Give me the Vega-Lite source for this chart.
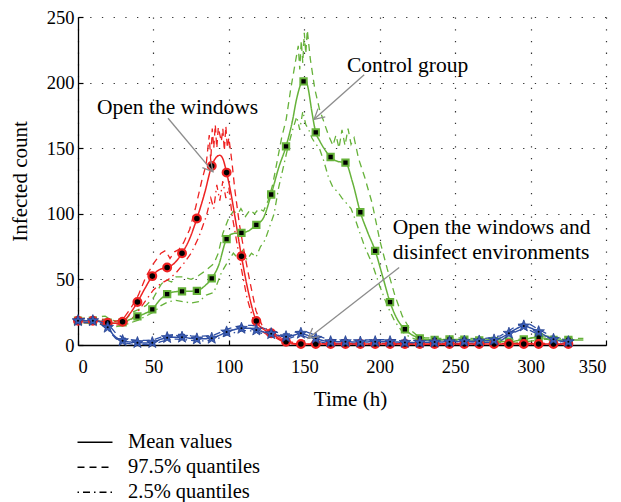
{
  "$schema": "https://vega.github.io/schema/vega-lite/v6.json",
  "width": 528,
  "height": 328,
  "autosize": {"type": "none"},
  "padding": {"left": 78, "top": 17, "right": 15, "bottom": 157},
  "config": {
    "view": {"stroke": null},
    "font": "Liberation Serif",
    "axis": {
      "grid": true,
      "gridColor": "#333333",
      "gridDash": [1.3, 10.4],
      "gridWidth": 1.2,
      "domainColor": "black",
      "domainWidth": 1.3,
      "tickColor": "black",
      "tickSize": -5,
      "tickWidth": 1.2
    }
  },
  "datasets": {
    "lines": [
      {"s": "control", "q": "97.5% quantiles", "t": 0, "v": 20}, {"s": "control", "q": "97.5% quantiles", "t": 10, "v": 21}, {"s": "control", "q": "97.5% quantiles", "t": 18, "v": 22}, {"s": "control", "q": "97.5% quantiles", "t": 22, "v": 19}, {"s": "control", "q": "97.5% quantiles", "t": 28, "v": 18}, {"s": "control", "q": "97.5% quantiles", "t": 32, "v": 20}, {"s": "control", "q": "97.5% quantiles", "t": 36, "v": 25}, {"s": "control", "q": "97.5% quantiles", "t": 40, "v": 27}, {"s": "control", "q": "97.5% quantiles", "t": 45, "v": 30}, {"s": "control", "q": "97.5% quantiles", "t": 50, "v": 36}, {"s": "control", "q": "97.5% quantiles", "t": 55, "v": 46}, {"s": "control", "q": "97.5% quantiles", "t": 58, "v": 50}, {"s": "control", "q": "97.5% quantiles", "t": 62, "v": 48}, {"s": "control", "q": "97.5% quantiles", "t": 65, "v": 52}, {"s": "control", "q": "97.5% quantiles", "t": 70, "v": 52}, {"s": "control", "q": "97.5% quantiles", "t": 75, "v": 50}, {"s": "control", "q": "97.5% quantiles", "t": 80, "v": 53}, {"s": "control", "q": "97.5% quantiles", "t": 85, "v": 57}, {"s": "control", "q": "97.5% quantiles", "t": 90, "v": 62}, {"s": "control", "q": "97.5% quantiles", "t": 93, "v": 70}, {"s": "control", "q": "97.5% quantiles", "t": 96, "v": 85}, {"s": "control", "q": "97.5% quantiles", "t": 100, "v": 97}, {"s": "control", "q": "97.5% quantiles", "t": 103, "v": 102}, {"s": "control", "q": "97.5% quantiles", "t": 106, "v": 100}, {"s": "control", "q": "97.5% quantiles", "t": 108, "v": 104}, {"s": "control", "q": "97.5% quantiles", "t": 111, "v": 98}, {"s": "control", "q": "97.5% quantiles", "t": 114, "v": 103}, {"s": "control", "q": "97.5% quantiles", "t": 117, "v": 100}, {"s": "control", "q": "97.5% quantiles", "t": 120, "v": 104}, {"s": "control", "q": "97.5% quantiles", "t": 123, "v": 102}, {"s": "control", "q": "97.5% quantiles", "t": 126, "v": 110}, {"s": "control", "q": "97.5% quantiles", "t": 129, "v": 122}, {"s": "control", "q": "97.5% quantiles", "t": 132, "v": 140}, {"s": "control", "q": "97.5% quantiles", "t": 135, "v": 158}, {"s": "control", "q": "97.5% quantiles", "t": 138, "v": 172}, {"s": "control", "q": "97.5% quantiles", "t": 141, "v": 195}, {"s": "control", "q": "97.5% quantiles", "t": 144, "v": 215}, {"s": "control", "q": "97.5% quantiles", "t": 146, "v": 228}, {"s": "control", "q": "97.5% quantiles", "t": 147, "v": 210}, {"s": "control", "q": "97.5% quantiles", "t": 148, "v": 232}, {"s": "control", "q": "97.5% quantiles", "t": 149, "v": 215}, {"s": "control", "q": "97.5% quantiles", "t": 150, "v": 238}, {"s": "control", "q": "97.5% quantiles", "t": 151, "v": 222}, {"s": "control", "q": "97.5% quantiles", "t": 152, "v": 240}, {"s": "control", "q": "97.5% quantiles", "t": 154, "v": 218}, {"s": "control", "q": "97.5% quantiles", "t": 157, "v": 195}, {"s": "control", "q": "97.5% quantiles", "t": 160, "v": 180}, {"s": "control", "q": "97.5% quantiles", "t": 163, "v": 170}, {"s": "control", "q": "97.5% quantiles", "t": 166, "v": 160}, {"s": "control", "q": "97.5% quantiles", "t": 169, "v": 152}, {"s": "control", "q": "97.5% quantiles", "t": 171, "v": 160}, {"s": "control", "q": "97.5% quantiles", "t": 173, "v": 150}, {"s": "control", "q": "97.5% quantiles", "t": 175, "v": 164}, {"s": "control", "q": "97.5% quantiles", "t": 177, "v": 152}, {"s": "control", "q": "97.5% quantiles", "t": 179, "v": 165}, {"s": "control", "q": "97.5% quantiles", "t": 181, "v": 153}, {"s": "control", "q": "97.5% quantiles", "t": 183, "v": 158}, {"s": "control", "q": "97.5% quantiles", "t": 186, "v": 142}, {"s": "control", "q": "97.5% quantiles", "t": 190, "v": 128}, {"s": "control", "q": "97.5% quantiles", "t": 195, "v": 108}, {"s": "control", "q": "97.5% quantiles", "t": 200, "v": 80}, {"s": "control", "q": "97.5% quantiles", "t": 205, "v": 58}, {"s": "control", "q": "97.5% quantiles", "t": 210, "v": 38}, {"s": "control", "q": "97.5% quantiles", "t": 215, "v": 22}, {"s": "control", "q": "97.5% quantiles", "t": 220, "v": 12}, {"s": "control", "q": "97.5% quantiles", "t": 225, "v": 7}, {"s": "control", "q": "97.5% quantiles", "t": 230, "v": 5.5}, {"s": "control", "q": "97.5% quantiles", "t": 240, "v": 5}, {"s": "control", "q": "97.5% quantiles", "t": 250, "v": 5.5}, {"s": "control", "q": "97.5% quantiles", "t": 260, "v": 5}, {"s": "control", "q": "97.5% quantiles", "t": 270, "v": 4.5}, {"s": "control", "q": "97.5% quantiles", "t": 280, "v": 4}, {"s": "control", "q": "97.5% quantiles", "t": 290, "v": 4}, {"s": "control", "q": "97.5% quantiles", "t": 300, "v": 5.5}, {"s": "control", "q": "97.5% quantiles", "t": 310, "v": 7}, {"s": "control", "q": "97.5% quantiles", "t": 320, "v": 5}, {"s": "control", "q": "97.5% quantiles", "t": 335, "v": 5},
      {"s": "control", "q": "2.5% quantiles", "t": 0, "v": 17}, {"s": "control", "q": "2.5% quantiles", "t": 10, "v": 16.5}, {"s": "control", "q": "2.5% quantiles", "t": 20, "v": 15}, {"s": "control", "q": "2.5% quantiles", "t": 25, "v": 14}, {"s": "control", "q": "2.5% quantiles", "t": 30, "v": 15}, {"s": "control", "q": "2.5% quantiles", "t": 35, "v": 17}, {"s": "control", "q": "2.5% quantiles", "t": 40, "v": 19}, {"s": "control", "q": "2.5% quantiles", "t": 45, "v": 22}, {"s": "control", "q": "2.5% quantiles", "t": 50, "v": 25}, {"s": "control", "q": "2.5% quantiles", "t": 55, "v": 30}, {"s": "control", "q": "2.5% quantiles", "t": 60, "v": 33}, {"s": "control", "q": "2.5% quantiles", "t": 65, "v": 34}, {"s": "control", "q": "2.5% quantiles", "t": 70, "v": 33}, {"s": "control", "q": "2.5% quantiles", "t": 75, "v": 32}, {"s": "control", "q": "2.5% quantiles", "t": 80, "v": 33}, {"s": "control", "q": "2.5% quantiles", "t": 85, "v": 38}, {"s": "control", "q": "2.5% quantiles", "t": 90, "v": 40}, {"s": "control", "q": "2.5% quantiles", "t": 95, "v": 55}, {"s": "control", "q": "2.5% quantiles", "t": 100, "v": 65}, {"s": "control", "q": "2.5% quantiles", "t": 103, "v": 70}, {"s": "control", "q": "2.5% quantiles", "t": 106, "v": 66}, {"s": "control", "q": "2.5% quantiles", "t": 109, "v": 72}, {"s": "control", "q": "2.5% quantiles", "t": 112, "v": 65}, {"s": "control", "q": "2.5% quantiles", "t": 115, "v": 70}, {"s": "control", "q": "2.5% quantiles", "t": 118, "v": 67}, {"s": "control", "q": "2.5% quantiles", "t": 121, "v": 75}, {"s": "control", "q": "2.5% quantiles", "t": 124, "v": 80}, {"s": "control", "q": "2.5% quantiles", "t": 127, "v": 90}, {"s": "control", "q": "2.5% quantiles", "t": 130, "v": 100}, {"s": "control", "q": "2.5% quantiles", "t": 133, "v": 120}, {"s": "control", "q": "2.5% quantiles", "t": 136, "v": 135}, {"s": "control", "q": "2.5% quantiles", "t": 139, "v": 150}, {"s": "control", "q": "2.5% quantiles", "t": 142, "v": 163}, {"s": "control", "q": "2.5% quantiles", "t": 145, "v": 174}, {"s": "control", "q": "2.5% quantiles", "t": 147, "v": 164}, {"s": "control", "q": "2.5% quantiles", "t": 149, "v": 178}, {"s": "control", "q": "2.5% quantiles", "t": 151, "v": 168}, {"s": "control", "q": "2.5% quantiles", "t": 153, "v": 164}, {"s": "control", "q": "2.5% quantiles", "t": 155, "v": 158}, {"s": "control", "q": "2.5% quantiles", "t": 157, "v": 154}, {"s": "control", "q": "2.5% quantiles", "t": 160, "v": 150}, {"s": "control", "q": "2.5% quantiles", "t": 163, "v": 140}, {"s": "control", "q": "2.5% quantiles", "t": 166, "v": 128}, {"s": "control", "q": "2.5% quantiles", "t": 169, "v": 120}, {"s": "control", "q": "2.5% quantiles", "t": 172, "v": 117}, {"s": "control", "q": "2.5% quantiles", "t": 175, "v": 112}, {"s": "control", "q": "2.5% quantiles", "t": 178, "v": 108}, {"s": "control", "q": "2.5% quantiles", "t": 181, "v": 104}, {"s": "control", "q": "2.5% quantiles", "t": 184, "v": 95}, {"s": "control", "q": "2.5% quantiles", "t": 187, "v": 85}, {"s": "control", "q": "2.5% quantiles", "t": 190, "v": 75}, {"s": "control", "q": "2.5% quantiles", "t": 195, "v": 62}, {"s": "control", "q": "2.5% quantiles", "t": 200, "v": 45}, {"s": "control", "q": "2.5% quantiles", "t": 205, "v": 30}, {"s": "control", "q": "2.5% quantiles", "t": 210, "v": 18}, {"s": "control", "q": "2.5% quantiles", "t": 215, "v": 10}, {"s": "control", "q": "2.5% quantiles", "t": 220, "v": 6}, {"s": "control", "q": "2.5% quantiles", "t": 225, "v": 4}, {"s": "control", "q": "2.5% quantiles", "t": 230, "v": 3}, {"s": "control", "q": "2.5% quantiles", "t": 240, "v": 3}, {"s": "control", "q": "2.5% quantiles", "t": 250, "v": 3.5}, {"s": "control", "q": "2.5% quantiles", "t": 260, "v": 3}, {"s": "control", "q": "2.5% quantiles", "t": 270, "v": 2.5}, {"s": "control", "q": "2.5% quantiles", "t": 280, "v": 2}, {"s": "control", "q": "2.5% quantiles", "t": 290, "v": 1.5}, {"s": "control", "q": "2.5% quantiles", "t": 300, "v": 3}, {"s": "control", "q": "2.5% quantiles", "t": 310, "v": 4.5}, {"s": "control", "q": "2.5% quantiles", "t": 320, "v": 3}, {"s": "control", "q": "2.5% quantiles", "t": 330, "v": 3},
      {"s": "window", "q": "97.5% quantiles", "t": 0, "v": 20}, {"s": "window", "q": "97.5% quantiles", "t": 10, "v": 20.5}, {"s": "window", "q": "97.5% quantiles", "t": 20, "v": 19}, {"s": "window", "q": "97.5% quantiles", "t": 25, "v": 18}, {"s": "window", "q": "97.5% quantiles", "t": 30, "v": 20}, {"s": "window", "q": "97.5% quantiles", "t": 35, "v": 28}, {"s": "window", "q": "97.5% quantiles", "t": 40, "v": 38}, {"s": "window", "q": "97.5% quantiles", "t": 45, "v": 52}, {"s": "window", "q": "97.5% quantiles", "t": 50, "v": 62}, {"s": "window", "q": "97.5% quantiles", "t": 55, "v": 70}, {"s": "window", "q": "97.5% quantiles", "t": 58, "v": 72}, {"s": "window", "q": "97.5% quantiles", "t": 61, "v": 66}, {"s": "window", "q": "97.5% quantiles", "t": 64, "v": 71}, {"s": "window", "q": "97.5% quantiles", "t": 67, "v": 73}, {"s": "window", "q": "97.5% quantiles", "t": 70, "v": 78}, {"s": "window", "q": "97.5% quantiles", "t": 74, "v": 88}, {"s": "window", "q": "97.5% quantiles", "t": 78, "v": 105}, {"s": "window", "q": "97.5% quantiles", "t": 82, "v": 125}, {"s": "window", "q": "97.5% quantiles", "t": 85, "v": 138}, {"s": "window", "q": "97.5% quantiles", "t": 87, "v": 160}, {"s": "window", "q": "97.5% quantiles", "t": 88, "v": 140}, {"s": "window", "q": "97.5% quantiles", "t": 89, "v": 165}, {"s": "window", "q": "97.5% quantiles", "t": 90, "v": 150}, {"s": "window", "q": "97.5% quantiles", "t": 91, "v": 168}, {"s": "window", "q": "97.5% quantiles", "t": 92, "v": 150}, {"s": "window", "q": "97.5% quantiles", "t": 93, "v": 166}, {"s": "window", "q": "97.5% quantiles", "t": 95, "v": 155}, {"s": "window", "q": "97.5% quantiles", "t": 96, "v": 165}, {"s": "window", "q": "97.5% quantiles", "t": 97, "v": 148}, {"s": "window", "q": "97.5% quantiles", "t": 98, "v": 167}, {"s": "window", "q": "97.5% quantiles", "t": 99, "v": 150}, {"s": "window", "q": "97.5% quantiles", "t": 100, "v": 158}, {"s": "window", "q": "97.5% quantiles", "t": 102, "v": 140}, {"s": "window", "q": "97.5% quantiles", "t": 104, "v": 118}, {"s": "window", "q": "97.5% quantiles", "t": 107, "v": 92}, {"s": "window", "q": "97.5% quantiles", "t": 110, "v": 72}, {"s": "window", "q": "97.5% quantiles", "t": 114, "v": 48}, {"s": "window", "q": "97.5% quantiles", "t": 118, "v": 26}, {"s": "window", "q": "97.5% quantiles", "t": 122, "v": 15}, {"s": "window", "q": "97.5% quantiles", "t": 126, "v": 11}, {"s": "window", "q": "97.5% quantiles", "t": 130, "v": 9}, {"s": "window", "q": "97.5% quantiles", "t": 135, "v": 5}, {"s": "window", "q": "97.5% quantiles", "t": 140, "v": 2.5}, {"s": "window", "q": "97.5% quantiles", "t": 145, "v": 1.5}, {"s": "window", "q": "97.5% quantiles", "t": 150, "v": 1.2}, {"s": "window", "q": "97.5% quantiles", "t": 325, "v": 1.2},
      {"s": "window", "q": "2.5% quantiles", "t": 0, "v": 17}, {"s": "window", "q": "2.5% quantiles", "t": 10, "v": 17}, {"s": "window", "q": "2.5% quantiles", "t": 20, "v": 15.5}, {"s": "window", "q": "2.5% quantiles", "t": 25, "v": 15}, {"s": "window", "q": "2.5% quantiles", "t": 30, "v": 16}, {"s": "window", "q": "2.5% quantiles", "t": 35, "v": 19}, {"s": "window", "q": "2.5% quantiles", "t": 40, "v": 26}, {"s": "window", "q": "2.5% quantiles", "t": 45, "v": 34}, {"s": "window", "q": "2.5% quantiles", "t": 50, "v": 42}, {"s": "window", "q": "2.5% quantiles", "t": 55, "v": 47}, {"s": "window", "q": "2.5% quantiles", "t": 60, "v": 50}, {"s": "window", "q": "2.5% quantiles", "t": 65, "v": 55}, {"s": "window", "q": "2.5% quantiles", "t": 70, "v": 62}, {"s": "window", "q": "2.5% quantiles", "t": 75, "v": 70}, {"s": "window", "q": "2.5% quantiles", "t": 80, "v": 82}, {"s": "window", "q": "2.5% quantiles", "t": 85, "v": 98}, {"s": "window", "q": "2.5% quantiles", "t": 88, "v": 112}, {"s": "window", "q": "2.5% quantiles", "t": 90, "v": 104}, {"s": "window", "q": "2.5% quantiles", "t": 92, "v": 122}, {"s": "window", "q": "2.5% quantiles", "t": 94, "v": 110}, {"s": "window", "q": "2.5% quantiles", "t": 96, "v": 125}, {"s": "window", "q": "2.5% quantiles", "t": 98, "v": 112}, {"s": "window", "q": "2.5% quantiles", "t": 100, "v": 120}, {"s": "window", "q": "2.5% quantiles", "t": 102, "v": 100}, {"s": "window", "q": "2.5% quantiles", "t": 105, "v": 80}, {"s": "window", "q": "2.5% quantiles", "t": 108, "v": 60}, {"s": "window", "q": "2.5% quantiles", "t": 112, "v": 36}, {"s": "window", "q": "2.5% quantiles", "t": 116, "v": 20}, {"s": "window", "q": "2.5% quantiles", "t": 120, "v": 12}, {"s": "window", "q": "2.5% quantiles", "t": 125, "v": 8}, {"s": "window", "q": "2.5% quantiles", "t": 130, "v": 6}, {"s": "window", "q": "2.5% quantiles", "t": 135, "v": 3}, {"s": "window", "q": "2.5% quantiles", "t": 140, "v": 1}, {"s": "window", "q": "2.5% quantiles", "t": 145, "v": 0.5}, {"s": "window", "q": "2.5% quantiles", "t": 325, "v": 0.5},
      {"s": "disinfect", "q": "97.5% quantiles", "t": 0, "v": 20}, {"s": "disinfect", "q": "97.5% quantiles", "t": 10, "v": 20}, {"s": "disinfect", "q": "97.5% quantiles", "t": 15, "v": 19.5}, {"s": "disinfect", "q": "97.5% quantiles", "t": 20, "v": 16}, {"s": "disinfect", "q": "97.5% quantiles", "t": 25, "v": 9}, {"s": "disinfect", "q": "97.5% quantiles", "t": 30, "v": 5.5}, {"s": "disinfect", "q": "97.5% quantiles", "t": 35, "v": 4}, {"s": "disinfect", "q": "97.5% quantiles", "t": 40, "v": 3.5}, {"s": "disinfect", "q": "97.5% quantiles", "t": 45, "v": 3.5}, {"s": "disinfect", "q": "97.5% quantiles", "t": 50, "v": 4}, {"s": "disinfect", "q": "97.5% quantiles", "t": 55, "v": 6}, {"s": "disinfect", "q": "97.5% quantiles", "t": 60, "v": 7.5}, {"s": "disinfect", "q": "97.5% quantiles", "t": 65, "v": 8}, {"s": "disinfect", "q": "97.5% quantiles", "t": 70, "v": 8}, {"s": "disinfect", "q": "97.5% quantiles", "t": 75, "v": 7}, {"s": "disinfect", "q": "97.5% quantiles", "t": 80, "v": 6.5}, {"s": "disinfect", "q": "97.5% quantiles", "t": 85, "v": 7}, {"s": "disinfect", "q": "97.5% quantiles", "t": 90, "v": 7.5}, {"s": "disinfect", "q": "97.5% quantiles", "t": 95, "v": 10}, {"s": "disinfect", "q": "97.5% quantiles", "t": 100, "v": 12.5}, {"s": "disinfect", "q": "97.5% quantiles", "t": 105, "v": 14}, {"s": "disinfect", "q": "97.5% quantiles", "t": 110, "v": 15}, {"s": "disinfect", "q": "97.5% quantiles", "t": 115, "v": 15}, {"s": "disinfect", "q": "97.5% quantiles", "t": 120, "v": 14}, {"s": "disinfect", "q": "97.5% quantiles", "t": 125, "v": 12}, {"s": "disinfect", "q": "97.5% quantiles", "t": 130, "v": 10.5}, {"s": "disinfect", "q": "97.5% quantiles", "t": 135, "v": 8.5}, {"s": "disinfect", "q": "97.5% quantiles", "t": 140, "v": 8.5}, {"s": "disinfect", "q": "97.5% quantiles", "t": 145, "v": 10}, {"s": "disinfect", "q": "97.5% quantiles", "t": 150, "v": 10.5}, {"s": "disinfect", "q": "97.5% quantiles", "t": 155, "v": 8.5}, {"s": "disinfect", "q": "97.5% quantiles", "t": 160, "v": 6.5}, {"s": "disinfect", "q": "97.5% quantiles", "t": 165, "v": 4.5}, {"s": "disinfect", "q": "97.5% quantiles", "t": 170, "v": 4}, {"s": "disinfect", "q": "97.5% quantiles", "t": 180, "v": 4}, {"s": "disinfect", "q": "97.5% quantiles", "t": 190, "v": 3.8}, {"s": "disinfect", "q": "97.5% quantiles", "t": 200, "v": 4}, {"s": "disinfect", "q": "97.5% quantiles", "t": 210, "v": 4}, {"s": "disinfect", "q": "97.5% quantiles", "t": 220, "v": 3.5}, {"s": "disinfect", "q": "97.5% quantiles", "t": 230, "v": 3.5}, {"s": "disinfect", "q": "97.5% quantiles", "t": 240, "v": 4}, {"s": "disinfect", "q": "97.5% quantiles", "t": 250, "v": 4}, {"s": "disinfect", "q": "97.5% quantiles", "t": 260, "v": 4.5}, {"s": "disinfect", "q": "97.5% quantiles", "t": 270, "v": 5}, {"s": "disinfect", "q": "97.5% quantiles", "t": 280, "v": 7}, {"s": "disinfect", "q": "97.5% quantiles", "t": 285, "v": 10.5}, {"s": "disinfect", "q": "97.5% quantiles", "t": 290, "v": 14}, {"s": "disinfect", "q": "97.5% quantiles", "t": 295, "v": 16.5}, {"s": "disinfect", "q": "97.5% quantiles", "t": 300, "v": 15.5}, {"s": "disinfect", "q": "97.5% quantiles", "t": 305, "v": 12}, {"s": "disinfect", "q": "97.5% quantiles", "t": 310, "v": 9}, {"s": "disinfect", "q": "97.5% quantiles", "t": 315, "v": 6}, {"s": "disinfect", "q": "97.5% quantiles", "t": 320, "v": 4.5}, {"s": "disinfect", "q": "97.5% quantiles", "t": 325, "v": 4},
      {"s": "disinfect", "q": "2.5% quantiles", "t": 0, "v": 17}, {"s": "disinfect", "q": "2.5% quantiles", "t": 10, "v": 17}, {"s": "disinfect", "q": "2.5% quantiles", "t": 15, "v": 16}, {"s": "disinfect", "q": "2.5% quantiles", "t": 20, "v": 11.5}, {"s": "disinfect", "q": "2.5% quantiles", "t": 25, "v": 5}, {"s": "disinfect", "q": "2.5% quantiles", "t": 30, "v": 1.8}, {"s": "disinfect", "q": "2.5% quantiles", "t": 35, "v": 0.8}, {"s": "disinfect", "q": "2.5% quantiles", "t": 40, "v": 0.5}, {"s": "disinfect", "q": "2.5% quantiles", "t": 45, "v": 0.4}, {"s": "disinfect", "q": "2.5% quantiles", "t": 50, "v": 0.6}, {"s": "disinfect", "q": "2.5% quantiles", "t": 55, "v": 2.5}, {"s": "disinfect", "q": "2.5% quantiles", "t": 60, "v": 4}, {"s": "disinfect", "q": "2.5% quantiles", "t": 65, "v": 4.5}, {"s": "disinfect", "q": "2.5% quantiles", "t": 70, "v": 4.2}, {"s": "disinfect", "q": "2.5% quantiles", "t": 75, "v": 3.5}, {"s": "disinfect", "q": "2.5% quantiles", "t": 80, "v": 3}, {"s": "disinfect", "q": "2.5% quantiles", "t": 85, "v": 3.2}, {"s": "disinfect", "q": "2.5% quantiles", "t": 90, "v": 3.8}, {"s": "disinfect", "q": "2.5% quantiles", "t": 95, "v": 6}, {"s": "disinfect", "q": "2.5% quantiles", "t": 100, "v": 8}, {"s": "disinfect", "q": "2.5% quantiles", "t": 105, "v": 10}, {"s": "disinfect", "q": "2.5% quantiles", "t": 110, "v": 11}, {"s": "disinfect", "q": "2.5% quantiles", "t": 115, "v": 10.8}, {"s": "disinfect", "q": "2.5% quantiles", "t": 120, "v": 9.5}, {"s": "disinfect", "q": "2.5% quantiles", "t": 125, "v": 8}, {"s": "disinfect", "q": "2.5% quantiles", "t": 130, "v": 6.8}, {"s": "disinfect", "q": "2.5% quantiles", "t": 135, "v": 5}, {"s": "disinfect", "q": "2.5% quantiles", "t": 140, "v": 5}, {"s": "disinfect", "q": "2.5% quantiles", "t": 145, "v": 7}, {"s": "disinfect", "q": "2.5% quantiles", "t": 150, "v": 6.5}, {"s": "disinfect", "q": "2.5% quantiles", "t": 155, "v": 4.5}, {"s": "disinfect", "q": "2.5% quantiles", "t": 160, "v": 2.5}, {"s": "disinfect", "q": "2.5% quantiles", "t": 165, "v": 1.2}, {"s": "disinfect", "q": "2.5% quantiles", "t": 170, "v": 1}, {"s": "disinfect", "q": "2.5% quantiles", "t": 180, "v": 1}, {"s": "disinfect", "q": "2.5% quantiles", "t": 190, "v": 0.8}, {"s": "disinfect", "q": "2.5% quantiles", "t": 200, "v": 1}, {"s": "disinfect", "q": "2.5% quantiles", "t": 210, "v": 1}, {"s": "disinfect", "q": "2.5% quantiles", "t": 220, "v": 0.8}, {"s": "disinfect", "q": "2.5% quantiles", "t": 230, "v": 0.8}, {"s": "disinfect", "q": "2.5% quantiles", "t": 240, "v": 1}, {"s": "disinfect", "q": "2.5% quantiles", "t": 250, "v": 1.2}, {"s": "disinfect", "q": "2.5% quantiles", "t": 260, "v": 1.5}, {"s": "disinfect", "q": "2.5% quantiles", "t": 270, "v": 1.8}, {"s": "disinfect", "q": "2.5% quantiles", "t": 280, "v": 3}, {"s": "disinfect", "q": "2.5% quantiles", "t": 285, "v": 7}, {"s": "disinfect", "q": "2.5% quantiles", "t": 290, "v": 10}, {"s": "disinfect", "q": "2.5% quantiles", "t": 295, "v": 12.5}, {"s": "disinfect", "q": "2.5% quantiles", "t": 300, "v": 11}, {"s": "disinfect", "q": "2.5% quantiles", "t": 305, "v": 8}, {"s": "disinfect", "q": "2.5% quantiles", "t": 310, "v": 5}, {"s": "disinfect", "q": "2.5% quantiles", "t": 315, "v": 2.8}, {"s": "disinfect", "q": "2.5% quantiles", "t": 320, "v": 1.5}, {"s": "disinfect", "q": "2.5% quantiles", "t": 325, "v": 1.2}
    ],
    "means": [
      {"s": "control", "q": "Mean values", "t": 0, "v": 18.5}, {"s": "control", "q": "Mean values", "t": 9.85, "v": 18.5}, {"s": "control", "q": "Mean values", "t": 15, "v": 18}, {"s": "control", "q": "Mean values", "t": 19.7, "v": 17}, {"s": "control", "q": "Mean values", "t": 25, "v": 16.5}, {"s": "control", "q": "Mean values", "t": 29.55, "v": 17.2}, {"s": "control", "q": "Mean values", "t": 34.5, "v": 19.5}, {"s": "control", "q": "Mean values", "t": 39.4, "v": 21.8}, {"s": "control", "q": "Mean values", "t": 44.3, "v": 24}, {"s": "control", "q": "Mean values", "t": 49.25, "v": 27.2}, {"s": "control", "q": "Mean values", "t": 54, "v": 34}, {"s": "control", "q": "Mean values", "t": 59.1, "v": 38.8}, {"s": "control", "q": "Mean values", "t": 64, "v": 40.5}, {"s": "control", "q": "Mean values", "t": 68.95, "v": 40.9}, {"s": "control", "q": "Mean values", "t": 74, "v": 41}, {"s": "control", "q": "Mean values", "t": 78.8, "v": 41.3}, {"s": "control", "q": "Mean values", "t": 84, "v": 45}, {"s": "control", "q": "Mean values", "t": 88.65, "v": 50.8}, {"s": "control", "q": "Mean values", "t": 93, "v": 60}, {"s": "control", "q": "Mean values", "t": 98.5, "v": 80.7}, {"s": "control", "q": "Mean values", "t": 103, "v": 85}, {"s": "control", "q": "Mean values", "t": 108.35, "v": 85.5}, {"s": "control", "q": "Mean values", "t": 113, "v": 87}, {"s": "control", "q": "Mean values", "t": 118.2, "v": 91.6}, {"s": "control", "q": "Mean values", "t": 123, "v": 97}, {"s": "control", "q": "Mean values", "t": 128.05, "v": 114.7}, {"s": "control", "q": "Mean values", "t": 133, "v": 135}, {"s": "control", "q": "Mean values", "t": 137.9, "v": 151.4}, {"s": "control", "q": "Mean values", "t": 142, "v": 170}, {"s": "control", "q": "Mean values", "t": 145, "v": 188}, {"s": "control", "q": "Mean values", "t": 148.5, "v": 201}, {"s": "control", "q": "Mean values", "t": 150.5, "v": 203}, {"s": "control", "q": "Mean values", "t": 152.5, "v": 196}, {"s": "control", "q": "Mean values", "t": 155, "v": 178}, {"s": "control", "q": "Mean values", "t": 157.6, "v": 162}, {"s": "control", "q": "Mean values", "t": 160, "v": 156}, {"s": "control", "q": "Mean values", "t": 163, "v": 150}, {"s": "control", "q": "Mean values", "t": 167.45, "v": 143.3}, {"s": "control", "q": "Mean values", "t": 172, "v": 140}, {"s": "control", "q": "Mean values", "t": 177.3, "v": 139}, {"s": "control", "q": "Mean values", "t": 182, "v": 124}, {"s": "control", "q": "Mean values", "t": 187.15, "v": 101.2}, {"s": "control", "q": "Mean values", "t": 192, "v": 86}, {"s": "control", "q": "Mean values", "t": 197, "v": 71.8}, {"s": "control", "q": "Mean values", "t": 202, "v": 52}, {"s": "control", "q": "Mean values", "t": 206.85, "v": 32.7}, {"s": "control", "q": "Mean values", "t": 211, "v": 21}, {"s": "control", "q": "Mean values", "t": 216.7, "v": 12}, {"s": "control", "q": "Mean values", "t": 221, "v": 8}, {"s": "control", "q": "Mean values", "t": 226.55, "v": 5.1}, {"s": "control", "q": "Mean values", "t": 231, "v": 4.2}, {"s": "control", "q": "Mean values", "t": 236.4, "v": 3.8}, {"s": "control", "q": "Mean values", "t": 246.25, "v": 4.3}, {"s": "control", "q": "Mean values", "t": 256.1, "v": 4}, {"s": "control", "q": "Mean values", "t": 265.95, "v": 3.5}, {"s": "control", "q": "Mean values", "t": 275.8, "v": 3}, {"s": "control", "q": "Mean values", "t": 285.65, "v": 2.5}, {"s": "control", "q": "Mean values", "t": 295.5, "v": 4.3}, {"s": "control", "q": "Mean values", "t": 305.35, "v": 5.8}, {"s": "control", "q": "Mean values", "t": 315.2, "v": 3.8}, {"s": "control", "q": "Mean values", "t": 325.05, "v": 3.8}, {"s": "control", "q": "Mean values", "t": 335, "v": 3.8},
      {"s": "window", "q": "Mean values", "t": 0, "v": 18.5}, {"s": "window", "q": "Mean values", "t": 9.85, "v": 18.5}, {"s": "window", "q": "Mean values", "t": 15, "v": 18}, {"s": "window", "q": "Mean values", "t": 19.7, "v": 17}, {"s": "window", "q": "Mean values", "t": 25, "v": 16.5}, {"s": "window", "q": "Mean values", "t": 29.55, "v": 17.7}, {"s": "window", "q": "Mean values", "t": 34.5, "v": 24}, {"s": "window", "q": "Mean values", "t": 39.4, "v": 32.7}, {"s": "window", "q": "Mean values", "t": 44.3, "v": 43}, {"s": "window", "q": "Mean values", "t": 49.25, "v": 52.5}, {"s": "window", "q": "Mean values", "t": 54, "v": 57.5}, {"s": "window", "q": "Mean values", "t": 59.1, "v": 59}, {"s": "window", "q": "Mean values", "t": 64, "v": 62.5}, {"s": "window", "q": "Mean values", "t": 68.95, "v": 70}, {"s": "window", "q": "Mean values", "t": 74, "v": 81}, {"s": "window", "q": "Mean values", "t": 78.8, "v": 96.4}, {"s": "window", "q": "Mean values", "t": 84, "v": 116}, {"s": "window", "q": "Mean values", "t": 88.65, "v": 136.5}, {"s": "window", "q": "Mean values", "t": 92, "v": 143.5}, {"s": "window", "q": "Mean values", "t": 94, "v": 144.6}, {"s": "window", "q": "Mean values", "t": 96, "v": 142}, {"s": "window", "q": "Mean values", "t": 98.5, "v": 131.4}, {"s": "window", "q": "Mean values", "t": 101, "v": 118}, {"s": "window", "q": "Mean values", "t": 104, "v": 98}, {"s": "window", "q": "Mean values", "t": 108.35, "v": 67.7}, {"s": "window", "q": "Mean values", "t": 113, "v": 40}, {"s": "window", "q": "Mean values", "t": 118.2, "v": 18.3}, {"s": "window", "q": "Mean values", "t": 123, "v": 12}, {"s": "window", "q": "Mean values", "t": 128.05, "v": 9}, {"s": "window", "q": "Mean values", "t": 133, "v": 5}, {"s": "window", "q": "Mean values", "t": 137.9, "v": 2.5}, {"s": "window", "q": "Mean values", "t": 143, "v": 1.2}, {"s": "window", "q": "Mean values", "t": 147.75, "v": 0.8}, {"s": "window", "q": "Mean values", "t": 200, "v": 0.8}, {"s": "window", "q": "Mean values", "t": 260, "v": 0.8}, {"s": "window", "q": "Mean values", "t": 325.05, "v": 0.8},
      {"s": "disinfect", "q": "Mean values", "t": 0, "v": 18.5}, {"s": "disinfect", "q": "Mean values", "t": 9.85, "v": 18.5}, {"s": "disinfect", "q": "Mean values", "t": 15, "v": 17.5}, {"s": "disinfect", "q": "Mean values", "t": 19.7, "v": 13.5}, {"s": "disinfect", "q": "Mean values", "t": 24, "v": 7}, {"s": "disinfect", "q": "Mean values", "t": 29.55, "v": 3.3}, {"s": "disinfect", "q": "Mean values", "t": 35, "v": 2.2}, {"s": "disinfect", "q": "Mean values", "t": 39.4, "v": 1.8}, {"s": "disinfect", "q": "Mean values", "t": 44, "v": 1.6}, {"s": "disinfect", "q": "Mean values", "t": 49.25, "v": 1.8}, {"s": "disinfect", "q": "Mean values", "t": 54, "v": 4}, {"s": "disinfect", "q": "Mean values", "t": 59.1, "v": 5.6}, {"s": "disinfect", "q": "Mean values", "t": 64, "v": 6}, {"s": "disinfect", "q": "Mean values", "t": 68.95, "v": 5.9}, {"s": "disinfect", "q": "Mean values", "t": 74, "v": 5.2}, {"s": "disinfect", "q": "Mean values", "t": 78.8, "v": 4.6}, {"s": "disinfect", "q": "Mean values", "t": 84, "v": 4.8}, {"s": "disinfect", "q": "Mean values", "t": 88.65, "v": 5.1}, {"s": "disinfect", "q": "Mean values", "t": 93, "v": 7}, {"s": "disinfect", "q": "Mean values", "t": 98.5, "v": 9.9}, {"s": "disinfect", "q": "Mean values", "t": 103, "v": 11.5}, {"s": "disinfect", "q": "Mean values", "t": 108.35, "v": 12.7}, {"s": "disinfect", "q": "Mean values", "t": 113, "v": 12.8}, {"s": "disinfect", "q": "Mean values", "t": 118.2, "v": 11.4}, {"s": "disinfect", "q": "Mean values", "t": 123, "v": 10}, {"s": "disinfect", "q": "Mean values", "t": 128.05, "v": 8.6}, {"s": "disinfect", "q": "Mean values", "t": 133, "v": 7.2}, {"s": "disinfect", "q": "Mean values", "t": 137.9, "v": 6.3}, {"s": "disinfect", "q": "Mean values", "t": 143, "v": 7.5}, {"s": "disinfect", "q": "Mean values", "t": 147.75, "v": 8.9}, {"s": "disinfect", "q": "Mean values", "t": 152, "v": 7.5}, {"s": "disinfect", "q": "Mean values", "t": 157.6, "v": 5.1}, {"s": "disinfect", "q": "Mean values", "t": 162, "v": 3.5}, {"s": "disinfect", "q": "Mean values", "t": 167.45, "v": 2.5}, {"s": "disinfect", "q": "Mean values", "t": 177.3, "v": 2.5}, {"s": "disinfect", "q": "Mean values", "t": 187.15, "v": 2.2}, {"s": "disinfect", "q": "Mean values", "t": 197, "v": 2.5}, {"s": "disinfect", "q": "Mean values", "t": 206.85, "v": 2.5}, {"s": "disinfect", "q": "Mean values", "t": 216.7, "v": 2}, {"s": "disinfect", "q": "Mean values", "t": 226.55, "v": 2}, {"s": "disinfect", "q": "Mean values", "t": 236.4, "v": 2.2}, {"s": "disinfect", "q": "Mean values", "t": 246.25, "v": 2.5}, {"s": "disinfect", "q": "Mean values", "t": 256.1, "v": 2.8}, {"s": "disinfect", "q": "Mean values", "t": 265.95, "v": 3}, {"s": "disinfect", "q": "Mean values", "t": 275.8, "v": 3.8}, {"s": "disinfect", "q": "Mean values", "t": 285.65, "v": 8.9}, {"s": "disinfect", "q": "Mean values", "t": 290, "v": 12}, {"s": "disinfect", "q": "Mean values", "t": 295.5, "v": 14.5}, {"s": "disinfect", "q": "Mean values", "t": 300, "v": 13}, {"s": "disinfect", "q": "Mean values", "t": 305.35, "v": 10.1}, {"s": "disinfect", "q": "Mean values", "t": 310, "v": 7}, {"s": "disinfect", "q": "Mean values", "t": 315.2, "v": 4.3}, {"s": "disinfect", "q": "Mean values", "t": 320, "v": 3}, {"s": "disinfect", "q": "Mean values", "t": 325.05, "v": 2.5}
    ],
    "markers": [
      {"s": "control", "t": 0, "v": 18.5}, {"s": "control", "t": 9.85, "v": 18.5}, {"s": "control", "t": 19.7, "v": 17}, {"s": "control", "t": 29.55, "v": 17.2}, {"s": "control", "t": 39.4, "v": 21.8}, {"s": "control", "t": 49.25, "v": 27.2}, {"s": "control", "t": 59.1, "v": 38.8}, {"s": "control", "t": 68.95, "v": 40.9}, {"s": "control", "t": 78.8, "v": 41.3}, {"s": "control", "t": 88.65, "v": 50.8}, {"s": "control", "t": 98.5, "v": 80.7}, {"s": "control", "t": 108.35, "v": 85.5}, {"s": "control", "t": 118.2, "v": 91.6}, {"s": "control", "t": 128.05, "v": 114.7}, {"s": "control", "t": 137.9, "v": 151.4}, {"s": "control", "t": 149.5, "v": 201}, {"s": "control", "t": 157.6, "v": 162}, {"s": "control", "t": 167.45, "v": 143.3}, {"s": "control", "t": 177.3, "v": 139}, {"s": "control", "t": 187.15, "v": 101.2}, {"s": "control", "t": 197, "v": 71.8}, {"s": "control", "t": 206.85, "v": 32.7}, {"s": "control", "t": 216.7, "v": 12}, {"s": "control", "t": 226.55, "v": 5.1}, {"s": "control", "t": 236.4, "v": 3.8}, {"s": "control", "t": 246.25, "v": 4.3}, {"s": "control", "t": 256.1, "v": 4}, {"s": "control", "t": 265.95, "v": 3.5}, {"s": "control", "t": 275.8, "v": 3}, {"s": "control", "t": 285.65, "v": 2.5}, {"s": "control", "t": 295.5, "v": 4.3}, {"s": "control", "t": 305.35, "v": 5.8}, {"s": "control", "t": 315.2, "v": 3.8}, {"s": "control", "t": 325.05, "v": 3.8},
      {"s": "window", "t": 0, "v": 18.5}, {"s": "window", "t": 9.85, "v": 18.5}, {"s": "window", "t": 19.7, "v": 17}, {"s": "window", "t": 29.55, "v": 17.7}, {"s": "window", "t": 39.4, "v": 32.7}, {"s": "window", "t": 49.25, "v": 52.5}, {"s": "window", "t": 59.1, "v": 59}, {"s": "window", "t": 68.95, "v": 70}, {"s": "window", "t": 78.8, "v": 96.4}, {"s": "window", "t": 88.65, "v": 136.5}, {"s": "window", "t": 98.5, "v": 131.4}, {"s": "window", "t": 108.35, "v": 67.7}, {"s": "window", "t": 118.2, "v": 18.3}, {"s": "window", "t": 128.05, "v": 9}, {"s": "window", "t": 137.9, "v": 2.5}, {"s": "window", "t": 147.75, "v": 0.8}, {"s": "window", "t": 157.6, "v": 0.8}, {"s": "window", "t": 167.45, "v": 0.8}, {"s": "window", "t": 177.3, "v": 0.8}, {"s": "window", "t": 187.15, "v": 0.8}, {"s": "window", "t": 197, "v": 0.8}, {"s": "window", "t": 206.85, "v": 0.8}, {"s": "window", "t": 216.7, "v": 0.8}, {"s": "window", "t": 226.55, "v": 0.8}, {"s": "window", "t": 236.4, "v": 0.8}, {"s": "window", "t": 246.25, "v": 0.8}, {"s": "window", "t": 256.1, "v": 0.8}, {"s": "window", "t": 265.95, "v": 0.8}, {"s": "window", "t": 275.8, "v": 0.8}, {"s": "window", "t": 285.65, "v": 0.8}, {"s": "window", "t": 295.5, "v": 0.8}, {"s": "window", "t": 305.35, "v": 0.8}, {"s": "window", "t": 315.2, "v": 0.8}, {"s": "window", "t": 325.05, "v": 0.8},
      {"s": "disinfect", "t": 0, "v": 18.5}, {"s": "disinfect", "t": 9.85, "v": 18.5}, {"s": "disinfect", "t": 19.7, "v": 13.5}, {"s": "disinfect", "t": 29.55, "v": 3.3}, {"s": "disinfect", "t": 39.4, "v": 1.8}, {"s": "disinfect", "t": 49.25, "v": 1.8}, {"s": "disinfect", "t": 59.1, "v": 5.6}, {"s": "disinfect", "t": 68.95, "v": 5.9}, {"s": "disinfect", "t": 78.8, "v": 4.6}, {"s": "disinfect", "t": 88.65, "v": 5.1}, {"s": "disinfect", "t": 98.5, "v": 9.9}, {"s": "disinfect", "t": 108.35, "v": 12.7}, {"s": "disinfect", "t": 118.2, "v": 11.4}, {"s": "disinfect", "t": 128.05, "v": 8.6}, {"s": "disinfect", "t": 137.9, "v": 6.3}, {"s": "disinfect", "t": 147.75, "v": 8.9}, {"s": "disinfect", "t": 157.6, "v": 5.1}, {"s": "disinfect", "t": 167.45, "v": 2.5}, {"s": "disinfect", "t": 177.3, "v": 2.5}, {"s": "disinfect", "t": 187.15, "v": 2.2}, {"s": "disinfect", "t": 197, "v": 2.5}, {"s": "disinfect", "t": 206.85, "v": 2.5}, {"s": "disinfect", "t": 216.7, "v": 2}, {"s": "disinfect", "t": 226.55, "v": 2}, {"s": "disinfect", "t": 236.4, "v": 2.2}, {"s": "disinfect", "t": 246.25, "v": 2.5}, {"s": "disinfect", "t": 256.1, "v": 2.8}, {"s": "disinfect", "t": 265.95, "v": 3}, {"s": "disinfect", "t": 275.8, "v": 3.8}, {"s": "disinfect", "t": 285.65, "v": 8.9}, {"s": "disinfect", "t": 295.5, "v": 14.5}, {"s": "disinfect", "t": 305.35, "v": 10.1}, {"s": "disinfect", "t": 315.2, "v": 4.3}, {"s": "disinfect", "t": 325.05, "v": 2.5}
    ],
    "arrows": [
      {"id": "a", "t": 59.7, "v": 172.8, "t2": 89.5, "v2": 132},
      {"id": "b", "t": 189.7, "v": 206, "t2": 156.5, "v2": 172},
      {"id": "c", "t": 212.9, "v": 59, "t2": 152.5, "v2": 5}
    ],
    "notes": [
      {"label": "Open the windows", "t": 12.6, "v": 181},
      {"label": "Control group", "t": 178.3, "v": 213},
      {"label": "Open the windows and", "t": 208.7, "v": 89},
      {"label": "disinfect environments", "t": 208.7, "v": 70}
    ]
  },
  "encoding": {
    "x": {"field": "t", "type": "quantitative", "scale": {"domain": [0, 350], "nice": false},
      "axis": {"title": "Time (h)", "values": [0, 50, 100, 150, 200, 250, 300, 350],
        "labelFont": "Liberation Serif", "labelFontSize": 18.5, "labelColor": "black", "labelPadding": 17,
        "titleFont": "Liberation Serif", "titleFontSize": 21, "titleFontWeight": "normal", "titleColor": "black", "titlePadding": 13, "titleX": 272}},
    "y": {"field": "v", "type": "quantitative", "scale": {"domain": [0, 250], "nice": false},
      "axis": {"title": "Infected count", "values": [0, 50, 100, 150, 200, 250],
        "labelFont": "Liberation Serif", "labelFontSize": 18.5, "labelColor": "black", "labelPadding": 9,
        "titleFont": "Liberation Serif", "titleFontSize": 21, "titleFontWeight": "normal", "titleColor": "black", "titlePadding": 16}}
  },
  "layer": [
    {
      "data": {"name": "lines"},
      "mark": {"type": "line", "strokeWidth": 1.3, "interpolate": "linear"},
      "encoding": {
        "color": {"field": "s", "type": "nominal", "scale": {"domain": ["control", "window", "disinfect"], "range": ["#66b23a", "#ee2222", "#2f50a6"]}, "legend": null},
        "strokeDash": {"field": "q", "type": "nominal",
          "scale": {"domain": ["Mean values", "97.5% quantiles", "2.5% quantiles"], "range": [[1, 0], [7, 5], [1.5, 4, 7, 4]]},
          "legend": {"title": null, "orient": "none", "legendX": 6.75, "legendY": 415, "symbolType": "M-2,0L2,0", "symbolSize": 306, "symbolStrokeWidth": 1.3, "symbolStrokeColor": "black", "symbolFillColor": "transparent", "labelFont": "Liberation Serif", "labelFontSize": 20.5, "labelColor": "black", "labelOffset": 22.75, "rowPadding": 4,
            "encode": {"symbols": {"update": {"stroke": {"value": "black"}, "fill": {"value": "transparent"}}}}}}
      }
    },
    {
      "data": {"name": "means"},
      "mark": {"type": "line", "strokeWidth": 1.5, "interpolate": "monotone"},
      "encoding": {
        "color": {"field": "s", "type": "nominal", "legend": null},
        "strokeDash": {"field": "q", "type": "nominal",
          "legend": {"title": null, "orient": "none", "legendX": 6.75, "legendY": 415, "symbolType": "M-2,0L2,0", "symbolSize": 306, "symbolStrokeWidth": 1.3, "symbolStrokeColor": "black", "symbolFillColor": "transparent", "labelFont": "Liberation Serif", "labelFontSize": 20.5, "labelColor": "black", "labelOffset": 22.75, "rowPadding": 4,
            "encode": {"symbols": {"update": {"stroke": {"value": "black"}, "fill": {"value": "transparent"}}}}}}
      }
    },
    {
      "data": {"name": "markers"},
      "transform": [{"filter": "datum.s === 'control'"}],
      "mark": {"type": "point", "shape": "square", "filled": true, "fill": "black", "stroke": "#66b23a", "strokeWidth": 2, "size": 40, "opacity": 1}
    },
    {
      "data": {"name": "markers"},
      "transform": [{"filter": "datum.s === 'window'"}],
      "mark": {"type": "point", "shape": "circle", "filled": true, "fill": "black", "stroke": "#ee2222", "strokeWidth": 2.2, "size": 60, "opacity": 1}
    },
    {
      "data": {"name": "markers"},
      "transform": [{"filter": "datum.s === 'disinfect'"}],
      "mark": {"type": "point", "shape": "M0,-1L0.247,-0.34L0.951,-0.309L0.399,0.13L0.588,0.809L0,0.42L-0.588,0.809L-0.399,0.13L-0.951,-0.309L-0.247,-0.34Z", "filled": true, "fill": "#3a5cb5", "stroke": "#24418f", "strokeWidth": 0.8, "size": 150, "opacity": 1}
    },
    {
      "data": {"name": "markers"},
      "transform": [{"filter": "datum.s === 'disinfect'"}],
      "mark": {"type": "point", "shape": "circle", "filled": true, "fill": "black", "size": 4, "opacity": 1}
    },
    {
      "data": {"name": "arrows"},
      "mark": {"type": "rule", "color": "#8c8c8c", "strokeWidth": 1.3},
      "encoding": {"x2": {"field": "t2"}, "y2": {"field": "v2"}}
    },
    {
      "data": {"name": "arrows"},
      "transform": [{"filter": "datum.id === 'a'"}],
      "mark": {"type": "point", "shape": "M-1,-0.55L0,0L-1,0.55", "filled": false, "stroke": "#8c8c8c", "strokeWidth": 1.3, "size": 400, "angle": 50, "opacity": 1},
      "encoding": {"x": {"field": "t2", "type": "quantitative"}, "y": {"field": "v2", "type": "quantitative"}}
    },
    {
      "data": {"name": "arrows"},
      "transform": [{"filter": "datum.id === 'b'"}],
      "mark": {"type": "point", "shape": "M-1,-0.55L0,0L-1,0.55", "filled": false, "stroke": "#8c8c8c", "strokeWidth": 1.3, "size": 400, "angle": 139, "opacity": 1},
      "encoding": {"x": {"field": "t2", "type": "quantitative"}, "y": {"field": "v2", "type": "quantitative"}}
    },
    {
      "data": {"name": "arrows"},
      "transform": [{"filter": "datum.id === 'c'"}],
      "mark": {"type": "point", "shape": "M-1,-0.55L0,0L-1,0.55", "filled": false, "stroke": "#8c8c8c", "strokeWidth": 1.3, "size": 400, "angle": 142, "opacity": 1},
      "encoding": {"x": {"field": "t2", "type": "quantitative"}, "y": {"field": "v2", "type": "quantitative"}}
    },
    {
      "data": {"name": "notes"},
      "mark": {"type": "text", "align": "left", "baseline": "middle", "font": "Liberation Serif", "fontSize": 21.5, "color": "black"},
      "encoding": {"text": {"field": "label"}}
    }
  ]
}
